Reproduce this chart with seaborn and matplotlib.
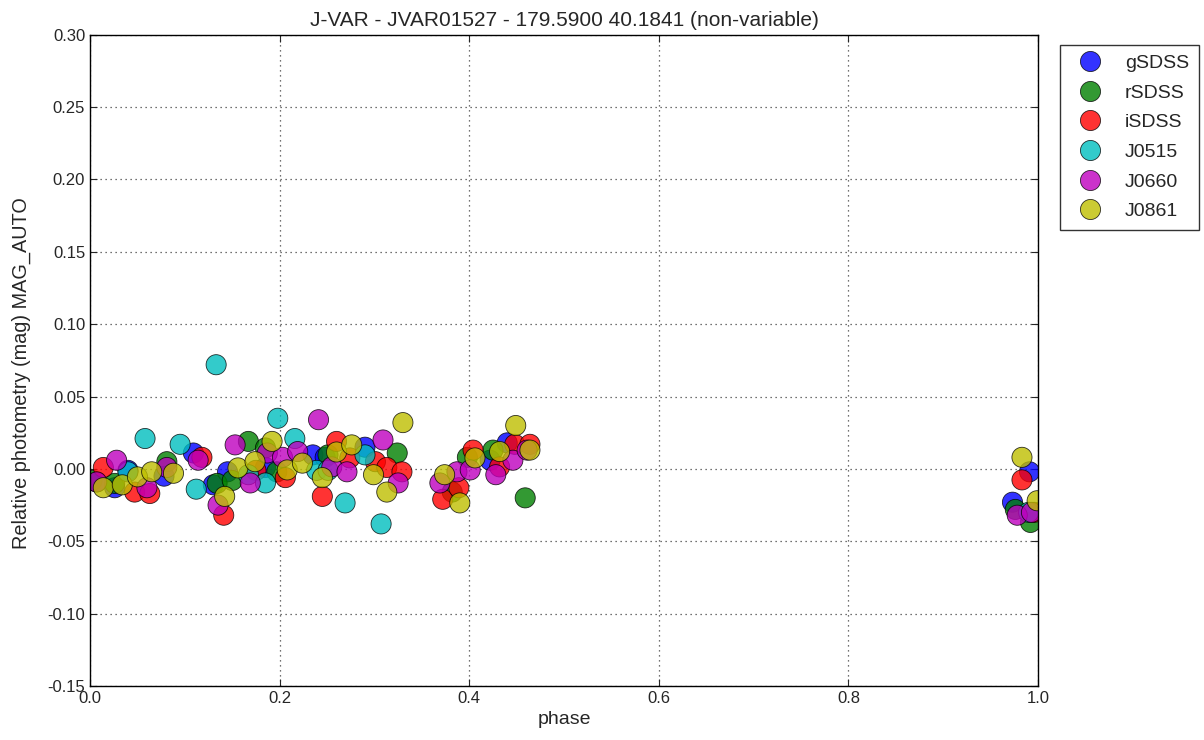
import matplotlib
matplotlib.use("Agg")
import matplotlib.pyplot as plt
import seaborn as sns
import pandas as pd

filters = ["gSDSS", "rSDSS", "iSDSS", "J0515", "J0660", "J0861"]
colors = ["#0000ff", "#008000", "#ff0000", "#00bfbf", "#bf00bf", "#bfbf00"]

g_phase = [0.007, 0.026, 0.040, 0.078, 0.109, 0.130, 0.145, 0.185, 0.235, 0.248, 0.290, 0.422, 0.440, 0.973, 0.991]
g_mag = [-0.009, -0.013, -0.001, -0.005, 0.011, -0.011, -0.002, 0.001, 0.0097, 0.008, 0.015, 0.006, 0.018, -0.023, -0.002]

r_phase = [0.002, 0.026, 0.081, 0.134, 0.150, 0.167, 0.185, 0.197, 0.251, 0.324, 0.382, 0.398, 0.425, 0.459, 0.976, 0.992]
r_mag = [-0.008, -0.010, 0.005, -0.010, -0.008, 0.019, 0.0145, -0.002, 0.0097, 0.011, -0.016, 0.008, 0.013, -0.020, -0.028, -0.037]

i_phase = [0.014, 0.047, 0.063, 0.118, 0.141, 0.175, 0.206, 0.245, 0.260, 0.274, 0.301, 0.313, 0.329, 0.372, 0.389, 0.404, 0.432, 0.448, 0.464, 0.983, 0.996]
i_mag = [0.001, -0.016, -0.017, 0.008, -0.032, -0.001, -0.006, -0.019, 0.019, 0.0076, 0.005, 0.001, -0.002, -0.021, -0.013, 0.013, 0.0014, 0.017, 0.017, -0.0076, -0.030]

j0515_phase = [0.040, 0.058, 0.095, 0.112, 0.133, 0.167, 0.185, 0.198, 0.216, 0.239, 0.251, 0.269, 0.290, 0.307, 0.990]
j0515_mag = [-0.002, 0.021, 0.017, -0.014, 0.072, -0.004, -0.0097, 0.035, 0.021, -0.001, -0.001, -0.0235, 0.0097, -0.038, -0.030]

j0660_phase = [0.007, 0.028, 0.060, 0.081, 0.114, 0.135, 0.153, 0.169, 0.187, 0.203, 0.219, 0.241, 0.255, 0.271, 0.309, 0.325, 0.369, 0.387, 0.401, 0.428, 0.446, 0.461, 0.978, 0.993]
j0660_mag = [-0.009, 0.006, -0.013, 0.001, 0.006, -0.025, 0.0166, -0.0097, 0.011, 0.008, 0.012, 0.034, 0.0014, -0.002, 0.020, -0.0097, -0.0097, -0.002, -0.0007, -0.004, 0.006, 0.013, -0.032, -0.030]

j0861_phase = [0.014, 0.034, 0.050, 0.065, 0.088, 0.142, 0.156, 0.174, 0.192, 0.208, 0.224, 0.245, 0.260, 0.276, 0.299, 0.313, 0.330, 0.374, 0.390, 0.406, 0.432, 0.449, 0.464, 0.983, 0.999]
j0861_mag = [-0.013, -0.011, -0.0055, -0.002, -0.003, -0.019, 0.0007, 0.005, 0.019, -0.0007, 0.004, -0.006, 0.0117, 0.0166, -0.004, -0.016, 0.032, -0.004, -0.0235, 0.0076, 0.012, 0.030, 0.013, 0.008, -0.022]

phases = [g_phase, r_phase, i_phase, j0515_phase, j0660_phase, j0861_phase]
mags = [g_mag, r_mag, i_mag, j0515_mag, j0660_mag, j0861_mag]

rows = []
for f, ph, mg in zip(filters, phases, mags):
    for p, m in zip(ph, mg):
        rows.append({"phase": p, "mag": m, "filter": f})
df = pd.DataFrame(rows)

sns.set_style("white")
plt.rcParams['font.family'] = ['Liberation Sans', 'DejaVu Sans']
plt.rcParams['xtick.direction'] = 'in'
plt.rcParams['ytick.direction'] = 'in'

fig = plt.figure(figsize=(12.04, 7.40), dpi=100)
ax = fig.add_axes([0.0748, 0.073, 0.7874, 0.880])

sns.scatterplot(data=df, x="phase", y="mag", hue="filter", hue_order=filters,
                palette=dict(zip(filters, colors)), s=210, alpha=0.8,
                edgecolor="black", linewidth=0.6, ax=ax)

ax.set_xlim(0, 1)
ax.set_ylim(-0.15, 0.30)
ax.set_xticks([0, 0.2, 0.4, 0.6, 0.8, 1.0])
ax.set_xticklabels(["0.0", "0.2", "0.4", "0.6", "0.8", "1.0"])
ax.set_yticks([-0.15, -0.10, -0.05, 0.0, 0.05, 0.10, 0.15, 0.20, 0.25, 0.30])
ax.set_yticklabels(["-0.15", "-0.10", "-0.05", "0.00", "0.05", "0.10", "0.15", "0.20", "0.25", "0.30"])
ax.grid(True, linestyle=(0, (1, 3)), color="#444444", linewidth=0.9)
ax.tick_params(labelsize=12, length=5, top=True, right=True, bottom=True, left=True)
for sp in ax.spines.values():
    sp.set_color("black")
    sp.set_linewidth(1.0)
ax.set_xlabel("phase", fontsize=14)
ax.set_ylabel("Relative photometry (mag) MAG_AUTO", fontsize=14.3)
ax.yaxis.set_label_coords(-0.062, 0.481)
ax.set_title("J-VAR - JVAR01527 - 179.5900 40.1841 (non-variable)", fontsize=15)

handles, labels = ax.get_legend_handles_labels()
leg = ax.legend(handles, labels, loc="upper left", bbox_to_anchor=(1.0232, 0.985),
                borderaxespad=0.0,
                fontsize=14, frameon=True, fancybox=False, edgecolor="black",
                markerscale=1.0, borderpad=0.5, labelspacing=0.62,
                handlelength=2.08, handletextpad=0.75)
leg.get_frame().set_linewidth(1.0)

fig.savefig("out.png", dpi=100)
